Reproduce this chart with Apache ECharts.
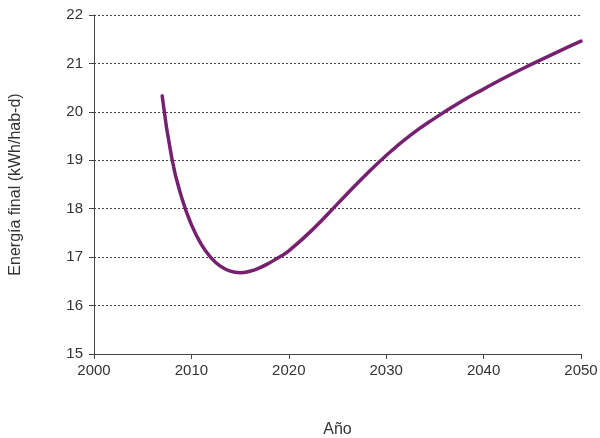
<!DOCTYPE html>
<html><head><meta charset="utf-8">
<script src="https://cdn.jsdelivr.net/npm/echarts@6/dist/echarts.min.js"></script>
<style>html,body{margin:0;padding:0;background:#fff}#c{width:600px;height:438px}</style>
</head><body><div id="c"></div>
<script>
const years = [2007, 2008, 2009, 2010, 2011, 2012, 2013, 2014, 2015, 2016, 2017, 2018, 2019, 2020, 2022.5, 2025, 2027.5, 2030, 2032.5, 2035, 2037.5, 2040, 2042.5, 2045, 2047.5, 2050];
const energy = [20.33, 19.03, 18.23, 17.67, 17.27, 16.99, 16.81, 16.71, 16.68, 16.71, 16.78, 16.88, 17.0, 17.13, 17.58, 18.1, 18.62, 19.1, 19.52, 19.87, 20.19, 20.47, 20.74, 20.99, 21.23, 21.46];
const xTicks = [2000, 2010, 2020, 2030, 2040, 2050];
const yTicks = [15, 16, 17, 18, 19, 20, 21, 22];
const xName = 'Año';
const yName = 'Energía final (kWh/hab-d)';

const font = 'Liberation Sans';
const chart = echarts.init(document.getElementById('c'), null, {renderer: 'canvas'});
chart.setOption({
  animation: false,
  grid: {left: 94, right: 19, top: 15, bottom: 84, containLabel: false, outerBoundsMode: 'none'},
  xAxis: {
    type: 'value', min: xTicks[0], max: xTicks[xTicks.length - 1], interval: 10,
    name: xName, nameLocation: 'middle', nameGap: 68,
    nameTextStyle: {fontFamily: font, fontSize: 16, color: '#333'},
    axisLine: {show: true, lineStyle: {color: '#444', width: 1}},
    axisTick: {show: true, length: 5, lineStyle: {color: '#444'}},
    axisLabel: {fontFamily: font, fontSize: 15, color: '#333', margin: 9, formatter: v => String(v)},
    splitLine: {show: false}
  },
  yAxis: {
    type: 'value', min: yTicks[0], max: yTicks[yTicks.length - 1], interval: 1,
    name: yName, nameLocation: 'middle', nameGap: 70,
    nameTextStyle: {fontFamily: font, fontSize: 16, color: '#333'},
    axisLine: {show: true, lineStyle: {color: '#444', width: 1}},
    axisTick: {show: true, length: 5, lineStyle: {color: '#444'}},
    axisLabel: {fontFamily: font, fontSize: 15, color: '#333', margin: 11, formatter: v => String(v)},
    splitLine: {show: true, lineStyle: {color: '#444', type: [2, 2], width: 1}}
  },
  series: [{
    type: 'line', smooth: 0.5, symbol: 'none',
    data: years.map((y, i) => [y, energy[i]]),
    lineStyle: {color: '#76216f', width: 3.5, cap: 'round'}
  }]
});
</script></body></html>
